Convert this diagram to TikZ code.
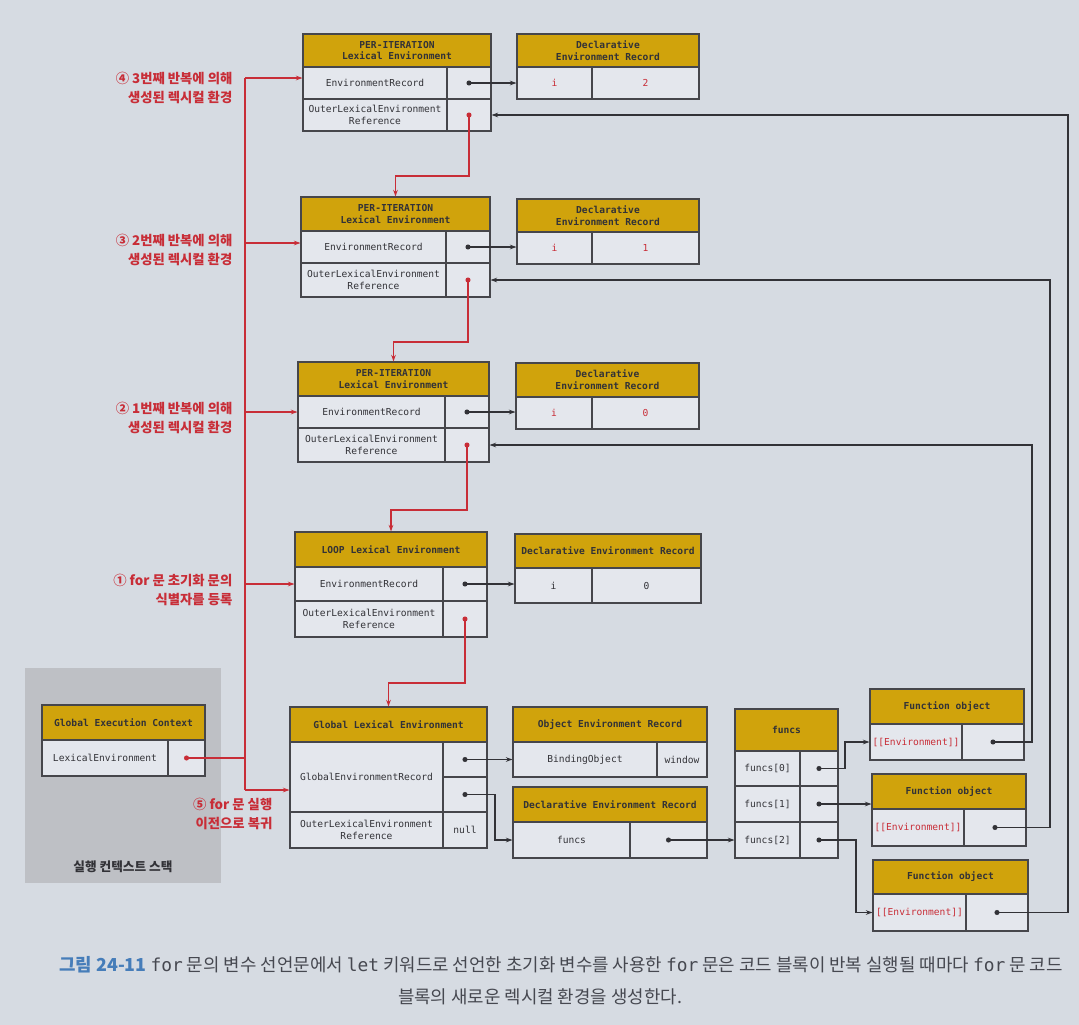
\documentclass[tikz,border=0pt]{standalone}
\usepackage{fontspec}
\setmonofont{DejaVu Sans Mono}
\newfontfamily\kr{Noto Sans CJK KR}
\usetikzlibrary{arrows.meta}
\definecolor{bg}{RGB}{214,219,226}
\definecolor{cellbg}{RGB}{228,231,237}
\definecolor{gold}{RGB}{208,163,12}
\definecolor{bd}{RGB}{70,70,75}
\definecolor{rd}{RGB}{200,45,55}
\definecolor{stk}{RGB}{190,192,197}
\definecolor{txt}{RGB}{50,50,55}
\definecolor{capblue}{RGB}{70,125,185}
\definecolor{capgray}{RGB}{70,72,80}
\newcommand\bx[7]{\node[#6, minimum width={(#4-#2)*0.75pt}, minimum height={(#5-#3)*0.75pt}] (#1) at ({(#2+#4)/2},{(#3+#5)/2}) {#7};}
\newcommand\dt[2]{\fill[#1] (#2.center) circle (1.9pt);}
\tikzset{
  hd/.style={draw=bd, fill=gold, line width=0.8pt, inner sep=0pt, font=\ttfamily\bfseries\fontsize{7.2}{8.8}\selectfont, text=txt, align=center},
  cl/.style={draw=bd, fill=cellbg, line width=0.8pt, inner sep=0pt, font=\ttfamily\fontsize{7.2}{9.4}\selectfont, text=txt, align=center},
  rv/.style={cl, text=rd},
  blk/.style={draw=txt, line width=0.8pt, -{Stealth[length=5pt,width=3.5pt]}},
  rdl/.style={draw=rd, line width=1pt},
  rda/.style={rdl, -{Stealth[length=5pt,width=3.5pt]}},
  lab/.style={font=\kr\bfseries\fontsize{10}{14.5}\selectfont, text=rd, align=right, anchor=east}
}
\begin{document}
\begin{tikzpicture}[x=0.75pt,y=-0.75pt]
\useasboundingbox (0,0) rectangle (1079,1025);
\fill[bg] (0,0) rectangle (1079,1025);
% execution context stack
\node[fill=stk, inner sep=0pt, minimum width={196*0.75pt}, minimum height={215*0.75pt}] (stack) at (123,775.5) {};
\node[font=\kr\bfseries\fontsize{9.5}{11}\selectfont, text=txt] (stl) at (123,867) {실행 컨텍스트 스택};
\bx{gech}{42}{705}{205}{740}{hd}{Global Execution Context}
\bx{gecl}{42}{740}{168}{776}{cl}{LexicalEnvironment}
\bx{gecd}{168}{740}{205}{776}{cl}{}
% iteration 3
\bx{h3}{303}{34}{491}{67}{hd}{PER-ITERATION\\Lexical Environment}
\bx{e3}{303}{67}{447}{99}{cl}{EnvironmentRecord}
\bx{e3d}{447}{67}{491}{99}{cl}{}
\bx{o3}{303}{99}{447}{131}{cl}{OuterLexicalEnvironment\\Reference}
\bx{o3d}{447}{99}{491}{131}{cl}{}
\bx{dh3}{517}{34}{699}{67}{hd}{Declarative\\Environment Record}
\bx{dk3}{517}{67}{592}{99}{rv}{i}
\bx{dv3}{592}{67}{699}{99}{rv}{2}
% iteration 2
\bx{h2}{301}{197}{490}{231}{hd}{PER-ITERATION\\Lexical Environment}
\bx{e2}{301}{231}{446}{263}{cl}{EnvironmentRecord}
\bx{e2d}{446}{231}{490}{263}{cl}{}
\bx{o2}{301}{263}{446}{297}{cl}{OuterLexicalEnvironment\\Reference}
\bx{o2d}{446}{263}{490}{297}{cl}{}
\bx{dh2}{517}{199}{699}{232}{hd}{Declarative\\Environment Record}
\bx{dk2}{517}{232}{592}{264}{rv}{i}
\bx{dv2}{592}{232}{699}{264}{rv}{1}
% iteration 1
\bx{h1}{298}{362}{489}{396}{hd}{PER-ITERATION\\Lexical Environment}
\bx{e1}{298}{396}{445}{428}{cl}{EnvironmentRecord}
\bx{e1d}{445}{396}{489}{428}{cl}{}
\bx{o1}{298}{428}{445}{462}{cl}{OuterLexicalEnvironment\\Reference}
\bx{o1d}{445}{428}{489}{462}{cl}{}
\bx{dh1}{516}{363}{699}{397}{hd}{Declarative\\Environment Record}
\bx{dk1}{516}{397}{592}{429}{rv}{i}
\bx{dv1}{592}{397}{699}{429}{rv}{0}
% loop
\bx{hl}{295}{532}{487}{567}{hd}{LOOP Lexical Environment}
\bx{el}{295}{567}{443}{601}{cl}{EnvironmentRecord}
\bx{eld}{443}{567}{487}{601}{cl}{}
\bx{ol}{295}{601}{443}{637}{cl}{OuterLexicalEnvironment\\Reference}
\bx{old}{443}{601}{487}{637}{cl}{}
\bx{dhl}{515}{534}{701}{568}{hd}{Declarative Environment Record}
\bx{dkl}{515}{568}{592}{603}{cl}{i}
\bx{dvl}{592}{568}{701}{603}{cl}{0}
% global lexical environment
\bx{gh}{290}{707}{487}{742}{hd}{Global Lexical Environment}
\bx{gr}{290}{742}{443}{812}{cl}{GlobalEnvironmentRecord}
\bx{gr1}{443}{742}{487}{777}{cl}{}
\bx{gr2}{443}{777}{487}{812}{cl}{}
\bx{go}{290}{812}{443}{848}{cl}{OuterLexicalEnvironment\\Reference}
\bx{gn}{443}{812}{487}{848}{cl}{null}
\bx{oh}{513}{707}{707}{742}{hd}{Object Environment Record}
\bx{ob}{513}{742}{657}{777}{cl}{BindingObject}
\bx{ow}{657}{742}{707}{777}{cl}{window}
\bx{gdh}{513}{787}{707}{822}{hd}{Declarative Environment Record}
\bx{gdf}{513}{822}{630}{858}{cl}{funcs}
\bx{gdd}{630}{822}{707}{858}{cl}{}
% funcs array
\bx{fh}{735}{709}{838}{751}{hd}{funcs}
\bx{f0}{735}{751}{800}{786}{cl}{funcs[0]}
\bx{f0d}{800}{751}{838}{786}{cl}{}
\bx{f1}{735}{786}{800}{822}{cl}{funcs[1]}
\bx{f1d}{800}{786}{838}{822}{cl}{}
\bx{f2}{735}{822}{800}{858}{cl}{funcs[2]}
\bx{f2d}{800}{822}{838}{858}{cl}{}
% function objects
\bx{fo1h}{870}{689}{1024}{724}{hd}{Function object}
\bx{fo1l}{870}{724}{962}{760}{rv}{[[Environment]]}
\bx{fo1d}{962}{724}{1024}{760}{cl}{}
\bx{fo2h}{872}{774}{1026}{809}{hd}{Function object}
\bx{fo2l}{872}{809}{964}{846}{rv}{[[Environment]]}
\bx{fo2d}{964}{809}{1026}{846}{cl}{}
\bx{fo3h}{873}{860}{1028}{894}{hd}{Function object}
\bx{fo3l}{873}{894}{966}{931}{rv}{[[Environment]]}
\bx{fo3d}{966}{894}{1028}{931}{cl}{}
% black connectors
\draw[blk] (e3d.center) -- (e3d.center -| dk3.west);
\draw[blk] (e2d.center) -- (e2d.center -| dk2.west);
\draw[blk] (e1d.center) -- (e1d.center -| dk1.west);
\draw[blk] (eld.center) -- (eld.center -| dkl.west);
\draw[blk] (gr1.center) -- (gr1.center -| ob.west);
\draw[blk] (gr2.center) -- ++(30,0) |- (gdf.west);
\draw[blk] (gdd.center) -- (gdd.center -| f2.west);
\draw[blk] (f0d.center) -- ++(26,0) |- (fo1l.west);
\draw[blk] (f1d.center) -- (f1d.center -| fo2h.west);
\draw[blk] (f2d.center) -- ++(37,0) |- (fo3l.west);
\draw[blk] (fo1d.center) -- ++(39,0) |- (o1d.east);
\draw[blk] (fo2d.center) -- ++(55,0) |- (o2d.east);
\draw[blk] (fo3d.center) -- ++(71,0) |- (o3d.east);
\foreach \n in {e3d,e2d,e1d,eld,gr1,gr2,gdd,f0d,f1d,f2d,fo1d,fo2d,fo3d} {\dt{txt}{\n}}
% red outer chain
\draw[rda] (o3d.center) -- ++(0,61) -| (h2.north);
\draw[rda] (o2d.center) -- ++(0,62) -| (h1.north);
\draw[rda] (o1d.center) -- ++(0,65) -| (hl.north);
\draw[rda] (old.center) -- ++(0,64) -| (gh.north);
% red bus
\coordinate (b4) at (245,78);
\coordinate (b3) at (245,243);
\coordinate (b2) at (245,412);
\coordinate (b1) at (245,584);
\coordinate (b5) at (245,790);
\draw[rdl] (gecd.center) -- (gecd.center -| b5);
\draw[rdl] (b4) -- (b5);
\draw[rda] (b4) -- (b4 -| e3.west);
\draw[rda] (b3) -- (b3 -| e2.west);
\draw[rda] (b2) -- (b2 -| e1.west);
\draw[rda] (b1) -- (b1 -| el.west);
\draw[rda] (b5) -- (b5 -| gr.west);
\foreach \n in {o3d,o2d,o1d,old,gecd} {\dt{rd}{\n}}
% labels
\node[lab] (l4) at (237,88) {④ 3번째 반복에 의해\\생성된 렉시컬 환경};
\node[lab] (l3) at (237,250) {③ 2번째 반복에 의해\\생성된 렉시컬 환경};
\node[lab] (l2) at (237,418) {② 1번째 반복에 의해\\생성된 렉시컬 환경};
\node[lab] (l1) at (237,590) {① for 문 초기화 문의\\식별자를 등록};
\node[lab] (l5) at (277,814) {⑤ for 문 실행\\이전으로 복귀};
% caption
\node[font=\kr\fontsize{13.4}{15}\selectfont, text=capgray] (cap1) at (561,965) {{\color{capblue}\bfseries 그림 24-11} {\ttfamily for} 문의 변수 선언문에서 {\ttfamily let} 키워드로 선언한 초기화 변수를 사용한 {\ttfamily for} 문은 코드 블록이 반복 실행될 때마다 {\ttfamily for} 문 코드};
\node[font=\kr\fontsize{13.4}{15}\selectfont, text=capgray] (cap2) at (540,997) {블록의 새로운 렉시컬 환경을 생성한다.};
\end{tikzpicture}
\end{document}
